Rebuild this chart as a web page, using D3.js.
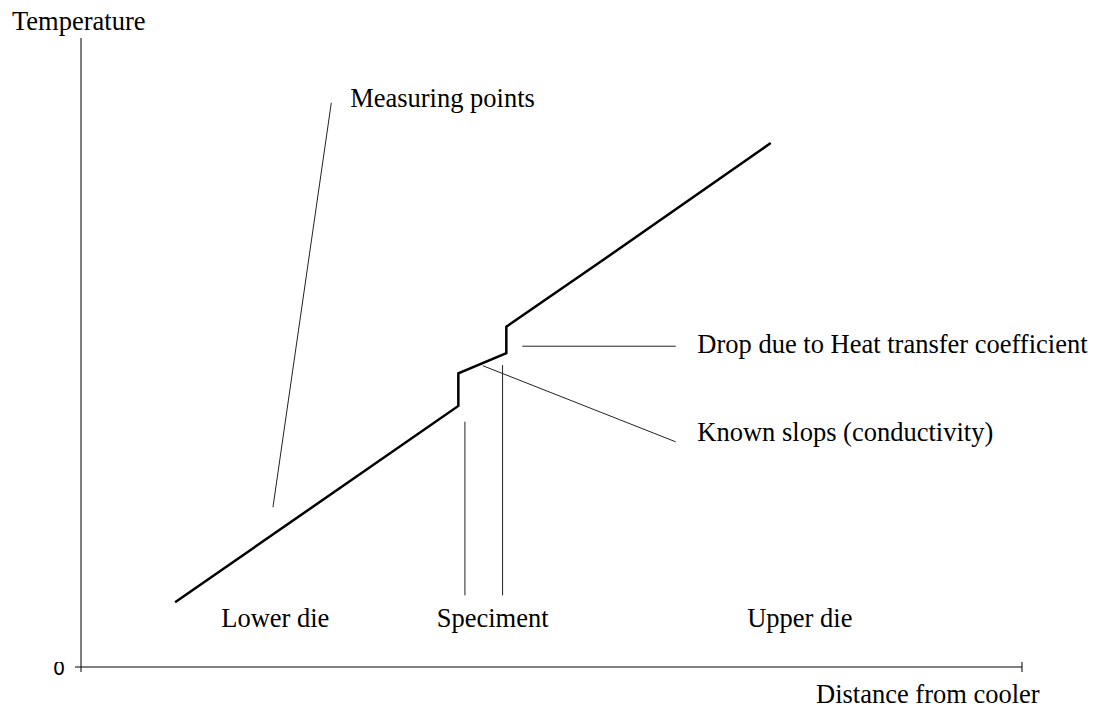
<!DOCTYPE html>
<html>
<head>
<meta charset="utf-8">
<script src="https://cdn.jsdelivr.net/npm/d3@7"></script>
<style>
  body { margin: 0; background: #fff; }
  text { font-family: "Liberation Serif", "Times New Roman", serif; font-size: 26.5px; fill: #000; }
</style>
</head>
<body>
<div id="chart"></div>
<script>
// profile of temperature along the stack (arbitrary units)
var profileX = [1.00, 4.01, 4.01, 4.52, 4.52, 5.49, 7.33];
var profileY = [1.03, 4.15, 4.67, 4.99, 5.41, 6.41, 8.33];

// thin leader lines: [x1, y1, x2, y2]
var leaders = [
  [2.04, 2.54, 2.66, 8.97],   // measuring points
  [4.69, 5.10, 6.32, 5.10],   // drop due to heat transfer
  [4.27, 4.79, 6.32, 3.58],   // known slops
  [4.08, 3.90, 4.08, 1.14],   // specimen left edge
  [4.48, 4.80, 4.48, 1.14]    // specimen right edge
];

var labels = ["Measuring points", "Drop due to Heat transfer coefficient", "Known slops (conductivity)",
  "Lower die", "Speciment", "Upper die"];
var labelX = [2.86, 6.55, 6.55, 1.49, 3.78, 7.08];
var labelY = [8.90, 5.00, 3.60, 0.64, 0.64, 0.64];

var svgWidth = 1096;
var svgHeight = 713;

var svg = d3.select("#chart")
  .append("svg")
  .attr("width", svgWidth)
  .attr("height", svgHeight);

var xScale = d3.scaleLinear().domain([0, 10]).range([81, 1022]);
var yScale = d3.scaleLinear().domain([0, 10]).range([667, 38]);

// axes drawn by hand, the look is very bare
svg.append("line")
  .attr("x1", xScale(0)).attr("x2", xScale(0))
  .attr("y1", yScale(10)).attr("y2", yScale(0) + 5)
  .attr("stroke", "#000").attr("stroke-width", 1);

svg.append("line")
  .attr("x1", xScale(0) - 6).attr("x2", xScale(10))
  .attr("y1", yScale(0)).attr("y2", yScale(0))
  .attr("stroke", "#000").attr("stroke-width", 1);

svg.append("line")
  .attr("x1", xScale(10)).attr("x2", xScale(10))
  .attr("y1", yScale(0) - 5).attr("y2", yScale(0) + 5)
  .attr("stroke", "#000").attr("stroke-width", 1);

// "0" label, top clipped like the original
svg.append("clipPath").attr("id", "zeroClip")
  .append("rect").attr("x", 40).attr("y", yScale(0) - 5).attr("width", 40).attr("height", 30);

svg.append("text")
  .attr("clip-path", "url(#zeroClip)")
  .attr("x", 59).attr("y", yScale(0) + 8)
  .attr("text-anchor", "middle")
  .style("font-family", "'DejaVu Sans', sans-serif")
  .style("font-size", "19px")
  .text("0");

// axis titles
svg.append("text").attr("x", 12).attr("y", 30).text("Temperature");
svg.append("text").attr("x", 816).attr("y", 703).text("Distance from cooler");

// leader lines
svg.selectAll(".leader")
  .data(leaders)
  .enter()
  .append("line")
  .attr("class", "leader")
  .attr("x1", d => xScale(d[0]))
  .attr("y1", d => yScale(d[1]))
  .attr("x2", d => xScale(d[2]))
  .attr("y2", d => yScale(d[3]))
  .attr("stroke", "#222")
  .attr("stroke-width", 1);

// main temperature profile
var line = d3.line()
  .x((d, i) => xScale(profileX[i]))
  .y((d, i) => yScale(profileY[i]));

svg.append("path")
  .datum(profileX)
  .attr("d", line)
  .attr("fill", "none")
  .attr("stroke", "#000")
  .attr("stroke-width", 2.5)
  .attr("stroke-linejoin", "miter");

// annotations
svg.selectAll(".lab")
  .data(labels)
  .enter()
  .append("text")
  .attr("class", "lab")
  .attr("x", (d, i) => xScale(labelX[i]))
  .attr("y", (d, i) => yScale(labelY[i]))
  .text(d => d);
</script>
</body>
</html>
